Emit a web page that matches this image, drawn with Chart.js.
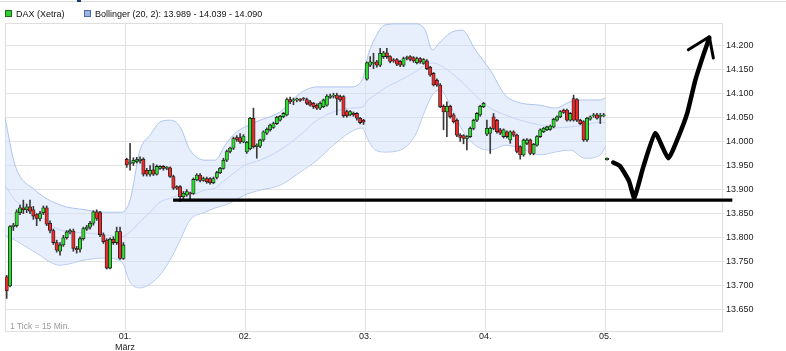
<!DOCTYPE html>
<html>
<head>
<meta charset="utf-8">
<script src="https://cdn.jsdelivr.net/npm/chart.js@4.4.0/dist/chart.umd.min.js"></script>
<style>
html, body { margin: 0; padding: 0; background: #fff; }
#wrap { position: relative; width: 786px; height: 351px; overflow: hidden; }
#topline { position: absolute; left: 0; top: 1px; width: 786px; height: 1px; background: #dcdcdc; }
#tab { position: absolute; left: 77px; top: 0; width: 4px; height: 2px; background: #1d3f78; }
#legend { position: absolute; left: 5px; top: 9px; font: 9px "Liberation Sans", Arial, sans-serif; color: #111; white-space: nowrap; }
#legend span.box { display: inline-block; width: 5px; height: 5px; margin-right: 4px; vertical-align: 0px; }
#legend span.item { margin-right: 17px; }
#note { position: absolute; left: 10px; top: 321px; font: 8.5px "Liberation Sans", Arial, sans-serif; color: #9a9a9a; }
canvas { position: absolute; left: 0; top: 0; }
</style>
</head>
<body>
<div id="wrap">
  <div id="topline"></div>
  <div id="tab"></div>
  <canvas id="chart" width="786" height="351"></canvas>
  <div id="legend">
    <span class="item"><span class="box" style="background:#33cc33;border:1px solid #1a6b1a"></span>DAX (Xetra)</span>
    <span class="item"><span class="box" style="background:#9cb4e2;border:1px solid #4d6ca8"></span>Bollinger (20, 2): 13.989 - 14.039 - 14.090</span>
  </div>
  <div id="note">1 Tick = 15 Min.</div>
</div>
<script>
// 15-min candles, 36 slots per trading day
const opens = [
  13719,13700,13823,13825,13852,13862,13858,13864,13858,13848,13840,13852,13862,13830,13815,13790,13772,13785,13800,13812,13814,13778,13776,13798,13818,13822,13830,13854,13852,13806,13795,13737,13797,13790,13813,13757,
  13963,13954,13955,13958,13960,13963,13940,13932,13941,13932,13944,13948,13944,13945,13927,13906,13906,13885,13889,13892,13892,13920,13930,13919,13923,13923,13914,13925,13935,13944,13961,13979,13986,14008,14008,13999,
  13978,13985,14048,13989,13990,14003,14017,14024,14029,14037,14044,14051,14055,14087,14084,14086,14087,14089,14087,14082,14079,14075,14069,14072,14075,14091,14094,14096,14093,14093,14062,14055,14058,14058,14048,14044,
  14129,14158,14162,14165,14158,14176,14184,14176,14168,14170,14166,14158,14172,14176,14174,14163,14172,14162,14167,14154,14141,14127,14117,14073,14061,14073,14055,14044,14013,14012,14006,14010,14027,14044,14055,14072,
  14015,14017,14051,14044,14024,14010,14020,14003,14020,14013,13989,13972,13996,14003,13975,13992,14010,14020,14024,14025,14030,14044,14051,14065,14065,14044,14089,14087,14044,14041,14003,14046,14053,14055,14052,14053,
  13962
];
const highs = [
  13722,13825,13830,13858,13868,13878,13870,13878,13865,13850,13855,13866,13866,13835,13818,13795,13790,13805,13815,13818,13818,13782,13802,13822,13826,13834,13856,13858,13855,13810,13798,13800,13802,13822,13822,13790,
  13965,13996,13966,13967,13968,13966,13944,13950,13954,13951,13950,13950,13948,13947,13930,13908,13908,13896,13900,13895,13924,13933,13933,13926,13926,13925,13926,13938,13946,13965,13982,13988,14009,14012,14016,14014,
  14000,14050,14069,13995,14005,14022,14028,14036,14040,14052,14054,14060,14090,14092,14090,14090,14089,14091,14090,14085,14081,14078,14082,14088,14097,14098,14100,14100,14096,14095,14065,14064,14061,14060,14050,14046,
  14165,14176,14183,14168,14193,14187,14193,14178,14172,14172,14168,14175,14177,14178,14176,14175,14174,14172,14170,14156,14143,14130,14120,14076,14082,14075,14058,14047,14016,14014,14012,14030,14046,14060,14075,14081,
  14044,14030,14058,14046,14027,14026,14022,14022,14022,14015,13991,14005,14006,14005,13996,14012,14026,14029,14032,14034,14048,14053,14064,14067,14067,14060,14096,14089,14046,14043,14050,14053,14058,14058,14058,14058,
  13966
];
const lows = [
  13674,13698,13815,13822,13848,13850,13852,13850,13838,13825,13835,13848,13825,13810,13786,13770,13764,13782,13797,13808,13772,13768,13770,13795,13815,13818,13826,13836,13802,13788,13735,13735,13786,13786,13755,13755,
  13946,13940,13950,13955,13955,13928,13928,13928,13929,13930,13942,13940,13941,13925,13900,13900,13875,13878,13886,13880,13890,13918,13916,13917,13913,13911,13912,13922,13933,13942,13958,13976,13983,14000,13996,13997,
  13975,13982,13986,13965,13987,14000,14014,14021,14027,14035,14042,14049,14053,14078,14076,14082,14083,14085,14076,14073,14068,14066,14066,14070,14073,14089,14090,14055,14083,14050,14050,14053,14052,14044,14036,14035,
  14127,14155,14151,14154,14155,14172,14172,14163,14164,14157,14155,14155,14169,14167,14164,14161,14162,14160,14149,14135,14115,14114,14070,14024,14010,14048,14038,14010,14000,13995,13982,14008,14024,14041,14052,14070,
  14012,13975,14024,14017,14014,14007,14007,13996,14010,13976,13963,13969,13993,13972,13972,13990,14008,14018,14022,14023,14028,14042,14049,14058,14042,14042,14042,14041,14035,14000,14000,14044,14050,14046,14037,14051,
  13961
];
const closes = [
  13690,13823,13826,13854,13862,13858,13864,13855,13845,13840,13850,13862,13828,13815,13790,13774,13785,13800,13812,13815,13778,13775,13798,13819,13822,13830,13854,13840,13806,13792,13737,13797,13790,13813,13757,13785,
  13951,13956,13961,13962,13963,13932,13932,13940,13932,13948,13948,13944,13945,13927,13903,13903,13885,13892,13896,13891,13921,13930,13919,13923,13916,13914,13923,13935,13944,13961,13979,13986,14006,14004,13999,14011,
  13998,14048,13989,13992,14003,14020,14025,14034,14037,14050,14052,14058,14087,14082,14085,14087,14085,14088,14079,14075,14072,14069,14079,14086,14094,14094,14096,14089,14086,14053,14053,14062,14055,14048,14039,14040,
  14163,14165,14163,14158,14183,14184,14176,14166,14167,14160,14158,14172,14173,14170,14167,14172,14165,14170,14151,14138,14117,14117,14072,14061,14073,14051,14041,14013,14008,14006,14010,14027,14044,14058,14073,14079,
  14027,14027,14027,14020,14017,14024,14010,14020,14013,13979,13972,14003,14003,13975,13994,14010,14024,14027,14030,14032,14046,14051,14062,14060,14044,14058,14044,14044,14037,14003,14048,14051,14054,14048,14053,14055,
  13965
];

// Bollinger (20, 2), read at sample slots
const bandSlots  = [0, 3, 9, 16.5, 24, 30, 35, 37.5, 40.5, 43.5, 46.5, 49.5, 52.5, 55.5, 60, 63, 66, 69, 72, 76.5, 82.5, 88.5, 93.6, 98.4, 103.5, 107.1, 108.9, 111, 114, 118.5, 123, 126, 128.1, 130.5, 133.5, 137.1, 141, 145.5, 150, 154.5, 160.5, 165, 169.5, 174, 178.5, 180];
const bandUpper  = [14049, 13951, 13899, 13868, 13858, 13853, 13853, 13878, 13982, 14013, 14040, 14044, 14030, 13982, 13961, 13961, 13992, 14017, 14030, 14044, 14061, 14100, 14113, 14113, 14113, 14127, 14179, 14215, 14242, 14244, 14244, 14231, 14190, 14206, 14225, 14231, 14190, 14148, 14096, 14080, 14075, 14069, 14082, 14086, 14086, 14090];
const bandMiddle = [13909, 13878, 13853, 13816, 13810, 13806, 13802, 13812, 13833, 13853, 13874, 13882, 13889, 13889, 13899, 13903, 13920, 13936, 13951, 13961, 13982, 14013, 14044, 14061, 14069, 14071, 14086, 14096, 14111, 14127, 14144, 14158, 14163, 14158, 14144, 14123, 14096, 14069, 14055, 14044, 14034, 14028, 14030, 14034, 14040, 14039];
const bandLower  = [13806, 13795, 13770, 13743, 13754, 13758, 13750, 13708, 13696, 13704, 13723, 13754, 13795, 13837, 13853, 13862, 13868, 13878, 13889, 13899, 13909, 13936, 13961, 13992, 14019, 14028, 14003, 13982, 13978, 13982, 14013, 14065, 14096, 14107, 14075, 14024, 13992, 13982, 13992, 13986, 13972, 13978, 13982, 13965, 13972, 13989];

// hand drawn support line and arrow
const supportLevel = 13878;
const supportFrom = 50.4, supportTo = 218.1;
const arrowX = [182.4, 184.4, 187.1, 188.7, 191.4, 195, 198.9, 201.9, 204.6, 207, 209.4, 211.2];
const arrowY = [13956, 13949, 13918, 13883, 13947, 14017, 13965, 14009, 14059, 14127, 14179, 14215];
const headX = [204.9, 211.2, 212.4];
const headY = [14190, 14217, 14173];

const dayTicks = [36, 72, 108, 144, 180];
const dayLabels = [['01.', 'März'], '02.', '03.', '04.', '05.'];
const priceTicks = [13650, 13700, 13750, 13800, 13850, 13900, 13950, 14000, 14050, 14100, 14150, 14200];

const wicks = opens.map((o, i) => ({ x: i + 0.5, y: [lows[i], highs[i]] }));
const bodies = opens.map((o, i) => ({ x: i + 0.5, y: [Math.min(o, closes[i]), Math.max(o, closes[i])] }));
const bodyColors = opens.map((o, i) => closes[i] >= o ? '#2fdc2f' : '#ea2b2b');

const band = arr => bandSlots.map((s, i) => ({ x: s, y: arr[i] }));
const bandStyle = {
    type: 'line', borderColor: '#aec4ec', borderWidth: 1, pointRadius: 0,
    tension: 0.4, cubicInterpolationMode: 'monotone', order: 5
};

const frame = {
    id: 'frame',
    beforeDatasetsDraw(chart) {
        const a = chart.chartArea, c = chart.ctx;
        c.save();
        c.strokeStyle = '#dedede';
        c.lineWidth = 1;
        c.strokeRect(Math.round(a.left) + 0.5, Math.round(a.top) + 0.5, a.right - a.left, a.bottom - a.top);
        c.restore();
    }
};

new Chart(document.getElementById('chart').getContext('2d'), {
    type: 'bar',
    data: {
        datasets: [
            { ...bandStyle, data: band(bandUpper), fill: '+2', backgroundColor: 'rgba(214,226,250,0.55)' },
            { ...bandStyle, data: band(bandMiddle), fill: false },
            { ...bandStyle, data: band(bandLower), fill: false },
            { type: 'bar', data: wicks, backgroundColor: '#3a3a3a', barThickness: 1, grouped: false, order: 3 },
            { type: 'bar', data: bodies, backgroundColor: bodyColors, borderColor: '#1e1e1e', borderWidth: 0.8,
              borderSkipped: false, barThickness: 3.4, minBarLength: 1, grouped: false, order: 2 },
            { type: 'line', data: [{ x: supportFrom, y: supportLevel }, { x: supportTo, y: supportLevel }],
              borderColor: '#000', borderWidth: 3.3, pointRadius: 0, clip: false, order: 1 },
            { type: 'line', data: arrowX.map((x, i) => ({ x, y: arrowY[i] })), borderColor: '#000', borderWidth: 4.5,
              pointRadius: 0, tension: 0.15, borderCapStyle: 'round', borderJoinStyle: 'round', clip: false, order: 0 },
            { type: 'line', data: headX.map((x, i) => ({ x, y: headY[i] })), borderColor: '#000', borderWidth: 3,
              pointRadius: 0, borderCapStyle: 'round', borderJoinStyle: 'round', clip: false, order: 0 }
        ]
    },
    options: {
        responsive: false,
        animation: false,
        layout: { padding: { left: 5, top: 23, right: 0, bottom: 0 } },
        plugins: { legend: { display: false }, tooltip: { enabled: false } },
        scales: {
            x: {
                type: 'linear', min: 0, max: 215, offset: false,
                afterBuildTicks: s => { s.ticks = dayTicks.map(v => ({ value: v })); },
                afterFit: s => { s.height = 20; },
                ticks: {
                    autoSkip: false, maxRotation: 0, padding: 0, color: '#222',
                    font: { family: '"Liberation Sans", Arial, sans-serif', size: 9 },
                    callback: v => dayLabels[dayTicks.indexOf(v)]
                },
                grid: { color: '#e2e2e2', tickLength: 0, offset: false },
                border: { color: '#dedede' }
            },
            y: {
                position: 'right', min: 13606.4, max: 14245.7,
                afterBuildTicks: s => { s.ticks = priceTicks.map(v => ({ value: v })); },
                afterFit: s => { s.width = 64; },
                ticks: {
                    padding: 2, color: '#222',
                    font: { family: '"Liberation Sans", Arial, sans-serif', size: 9 },
                    callback: v => (v / 1000).toFixed(3)
                },
                grid: { color: '#e2e2e2', tickLength: 2 },
                border: { color: '#dedede' }
            }
        }
    },
    plugins: [frame]
});
</script>
</body>
</html>
